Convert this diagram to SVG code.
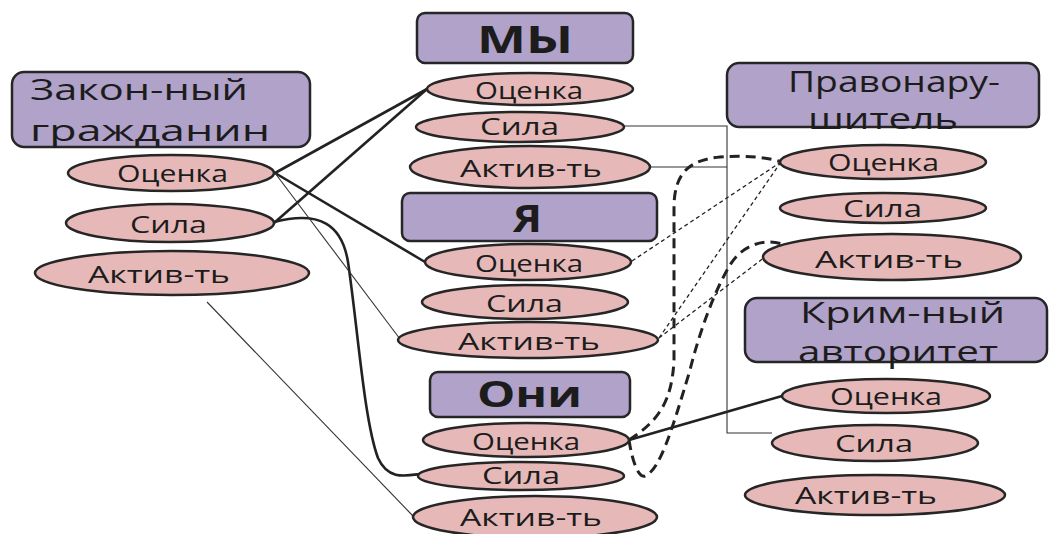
<svg xmlns="http://www.w3.org/2000/svg" width="1049" height="534" viewBox="0 0 1049 534">
<style>
.box{fill:#B0A2C8;stroke:#262626;stroke-width:2.5}
.oval{fill:#E6B9B8;stroke:#262626;stroke-width:2.5}
.t{font-family:"Open Sans","DejaVu Sans",sans-serif;fill:#1c1c1c;font-size:24px}
.h{font-size:30px}
.b{font-weight:bold;font-size:37px}
.thick{fill:none;stroke:#222;stroke-width:2.6}
.thin{fill:none;stroke:#333;stroke-width:1.1}
.dash{fill:none;stroke:#222;stroke-width:1.3;stroke-dasharray:4 3}
.bdash{fill:none;stroke:#222;stroke-width:3;stroke-dasharray:10 6}
</style>
<rect width="1049" height="534" fill="#fff"/>
<g id="connectors">
<line class="thick" x1="275" y1="173" x2="427" y2="89"/>
<line class="thick" x1="274" y1="223" x2="427" y2="89"/>
<line class="thick" x1="275" y1="173" x2="425" y2="262"/>
<path class="thick" d="M274,222 C320,210 342,225 348,262 C358,330 364,420 378,458 C388,480 405,476 420,474"/>
<line class="thick" x1="629" y1="440" x2="782" y2="396"/>
<line class="thin" x1="275" y1="173" x2="400" y2="339"/>
<line class="thin" x1="207" y1="302" x2="413" y2="516"/>
<polyline class="thin" points="624,126 727,126 727,433 772,433"/>
<line class="thin" x1="651" y1="167" x2="727" y2="167"/>
<line class="dash" x1="632" y1="261" x2="781" y2="162"/>
<line class="dash" x1="659" y1="338" x2="781" y2="162"/>
<line class="dash" x1="659" y1="338" x2="765" y2="257"/>
<path class="bdash" d="M629,440 C660,420 672,400 674,360 L674,205 C675,172 690,160 720,157 C750,155 770,158 781,162"/>
<path class="bdash" d="M629,440 C632,460 638,478 645,476 C660,470 672,430 690,370 C700,330 715,290 730,265 C742,245 765,238 782,244"/>
</g>
<g id="n-zakon"><rect class="box" x="12" y="72" width="298" height="75" rx="12"/>
<text class="t h" x="30" y="100" textLength="218" lengthAdjust="spacingAndGlyphs">Закон-ный</text>
<text class="t h" x="30" y="141" textLength="240" lengthAdjust="spacingAndGlyphs">гражданин</text></g>
<g id="n-z-ocenka"><ellipse class="oval" cx="171" cy="173" rx="103" ry="18"/><text class="t" x="117" y="182" textLength="111" lengthAdjust="spacingAndGlyphs">Оценка</text></g>
<g id="n-z-sila"><ellipse class="oval" cx="170" cy="223" rx="104" ry="19"/><text class="t" x="130" y="233" textLength="77" lengthAdjust="spacingAndGlyphs">Сила</text></g>
<g id="n-z-aktiv"><ellipse class="oval" cx="172" cy="273" rx="137" ry="22"/><text class="t" x="88" y="283" textLength="142" lengthAdjust="spacingAndGlyphs">Актив-ть</text></g>

<g id="n-my"><rect class="box" x="417" y="13" width="216" height="50" rx="8"/><text class="t b" x="477" y="53" textLength="96" lengthAdjust="spacingAndGlyphs">МЫ</text></g>
<g id="n-my-ocenka"><ellipse class="oval" cx="530" cy="89" rx="103" ry="16"/><text class="t" x="475" y="99" textLength="108" lengthAdjust="spacingAndGlyphs">Оценка</text></g>
<g id="n-my-sila"><ellipse class="oval" cx="520" cy="127" rx="104" ry="15"/><text class="t" x="480" y="135" textLength="79" lengthAdjust="spacingAndGlyphs">Сила</text></g>
<g id="n-my-aktiv"><ellipse class="oval" cx="530" cy="167" rx="120" ry="21"/><text class="t" x="460" y="177" textLength="142" lengthAdjust="spacingAndGlyphs">Актив-ть</text></g>

<g id="n-ya"><rect class="box" x="402" y="193" width="255" height="48" rx="8"/><text class="t b" x="513" y="232" textLength="29" lengthAdjust="spacingAndGlyphs">Я</text></g>
<g id="n-ya-ocenka"><ellipse class="oval" cx="528" cy="262" rx="103" ry="18"/><text class="t" x="475" y="272" textLength="108" lengthAdjust="spacingAndGlyphs">Оценка</text></g>
<g id="n-ya-sila"><ellipse class="oval" cx="525" cy="302" rx="103" ry="17"/><text class="t" x="486" y="312" textLength="77" lengthAdjust="spacingAndGlyphs">Сила</text></g>
<g id="n-ya-aktiv"><ellipse class="oval" cx="528" cy="340" rx="130" ry="18"/><text class="t" x="458" y="350" textLength="142" lengthAdjust="spacingAndGlyphs">Актив-ть</text></g>

<g id="n-oni"><rect class="box" x="430" y="372" width="200" height="45" rx="8"/><text class="t b" x="477" y="407" style="font-size:36px" textLength="105" lengthAdjust="spacingAndGlyphs">Они</text></g>
<g id="n-oni-ocenka"><ellipse class="oval" cx="526" cy="440" rx="103" ry="17"/><text class="t" x="472" y="450" textLength="108" lengthAdjust="spacingAndGlyphs">Оценка</text></g>
<g id="n-oni-sila"><ellipse class="oval" cx="521" cy="476" rx="103" ry="14"/><text class="t" x="482" y="484" textLength="78" lengthAdjust="spacingAndGlyphs">Сила</text></g>
<g id="n-oni-aktiv"><ellipse class="oval" cx="535" cy="517" rx="122" ry="21"/><text class="t" x="460" y="526" textLength="142" lengthAdjust="spacingAndGlyphs">Актив-ть</text></g>

<g id="n-prav"><rect class="box" x="727" y="63" width="312" height="64" rx="12"/>
<text class="t" x="788" y="92" style="font-size:29px" textLength="212" lengthAdjust="spacingAndGlyphs">Правонару-</text>
<text class="t" x="808" y="129" style="font-size:29px" textLength="150" lengthAdjust="spacingAndGlyphs">шитель</text></g>
<g id="n-prav-ocenka"><ellipse class="oval" cx="883" cy="162" rx="103" ry="17"/><text class="t" x="828" y="171" textLength="111" lengthAdjust="spacingAndGlyphs">Оценка</text></g>
<g id="n-prav-sila"><ellipse class="oval" cx="883" cy="208" rx="103" ry="15"/><text class="t" x="843" y="217" textLength="79" lengthAdjust="spacingAndGlyphs">Сила</text></g>
<g id="n-prav-aktiv"><ellipse class="oval" cx="892" cy="257" rx="129" ry="23"/><text class="t" x="815" y="268" textLength="148" lengthAdjust="spacingAndGlyphs">Актив-ть</text></g>

<g id="n-krim"><rect class="box" x="745" y="298" width="302" height="64" rx="12"/>
<text class="t h" x="800" y="323" textLength="205" lengthAdjust="spacingAndGlyphs">Крим-ный</text>
<text class="t h" x="798" y="362" textLength="200" lengthAdjust="spacingAndGlyphs">авторитет</text></g>
<g id="n-krim-ocenka"><ellipse class="oval" cx="886" cy="396" rx="104" ry="17"/><text class="t" x="830" y="405" textLength="112" lengthAdjust="spacingAndGlyphs">Оценка</text></g>
<g id="n-krim-sila"><ellipse class="oval" cx="875" cy="443" rx="103" ry="18"/><text class="t" x="835" y="452" textLength="78" lengthAdjust="spacingAndGlyphs">Сила</text></g>
<g id="n-krim-aktiv"><ellipse class="oval" cx="875" cy="495" rx="130" ry="20"/><text class="t" x="795" y="504" textLength="142" lengthAdjust="spacingAndGlyphs">Актив-ть</text></g>
</svg>
